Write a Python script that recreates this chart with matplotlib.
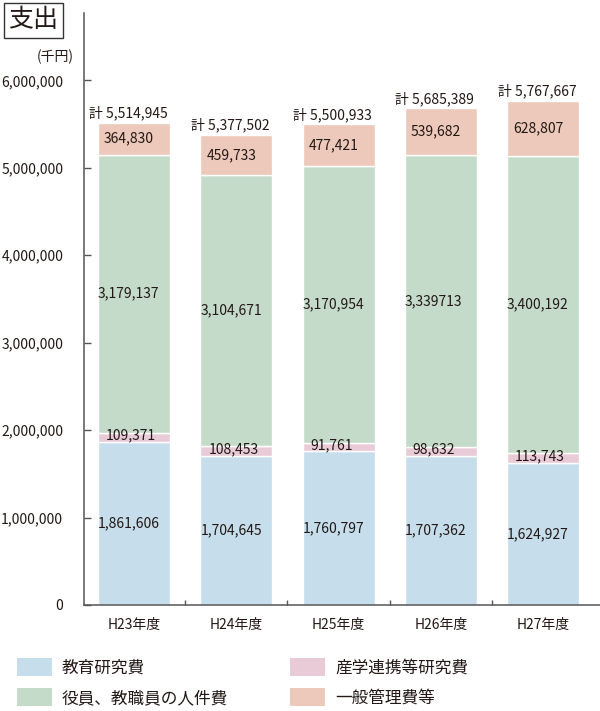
import numpy as np
import matplotlib
matplotlib.use('Agg')
import matplotlib.pyplot as plt
from matplotlib.patches import Patch
from matplotlib.ticker import FuncFormatter, FixedLocator

plt.rcParams['font.family'] = ['Noto Sans CJK JP', 'DejaVu Sans']

# ---- data ----
years = ['H23年度', 'H24年度', 'H25年度', 'H26年度', 'H27年度']
edu = [1861606, 1704645, 1760797, 1707362, 1624927]          # 教育研究費
sangaku = [109371, 108453, 91761, 98632, 113743]              # 産学連携等研究費
jinken = [3179137, 3104671, 3170954, 3339713, 3400192]        # 役員、教職員の人件費
ippan = [364830, 459733, 477421, 539682, 628807]              # 一般管理費等
jinken_labels = ['3,179,137', '3,104,671', '3,170,954', '3,339713', '3,400,192']
totals = ['5,514,945', '5,377,502', '5,500,933', '5,685,389', '5,767,667']
series_names = ['教育研究費', '産学連携等研究費', '役員、教職員の人件費', '一般管理費等']
yticks = [0, 1000000, 2000000, 3000000, 4000000, 5000000, 6000000]

# ---- style ----
c_blue = '#c6ddeb'
c_pink = '#e9cbd8'
c_green = '#c5dbca'
c_peach = '#ecc9ba'
txt = '#231815'
spine_c = '#555555'

fig = plt.figure(figsize=(6, 7.11), dpi=100)
W, H = 600, 711
ax = fig.add_axes([84 / W, 106 / H, 516 / W, 592 / H])

x = np.arange(len(years))
bw = 0.704
bottom = np.zeros(len(years))
px = 0.72  # points per pixel

series = [
    (edu, c_blue, [f'{v:,}' for v in edu], 0, 0),
    (sangaku, c_pink, [f'{v:,}' for v in sangaku], 8, 2),
    (jinken, c_green, jinken_labels, 0, 0),
    (ippan, c_peach, [f'{v:,}' for v in ippan], 6, 0),
]
for vals, col, labs, dx, dy in series:
    vals = np.array(vals, dtype=float)
    ax.bar(x, vals, bw, bottom=bottom, color=col, edgecolor='white', linewidth=1.0, zorder=2)
    for xi, b, v, lab in zip(x, bottom, vals, labs):
        ax.annotate(lab, (xi - bw / 2, b + v / 2), xytext=(dx * px, dy * px),
                    textcoords='offset points', ha='left', va='center',
                    fontsize=10, color=txt, zorder=4)
    bottom = bottom + vals

for xi, top, t in zip(x, bottom, totals):
    ax.annotate('計 ' + t, (xi, top), xytext=(-6 * px, 2 * px), textcoords='offset points',
                ha='center', va='bottom', fontsize=10, color=txt)

ax.set_xlim(-0.489, 4.557)
ax.set_ylim(0, 6.77e6)
ax.set_yticks(yticks)
ax.yaxis.set_major_formatter(FuncFormatter(lambda v, p: f'{int(v):,}'))
ax.set_xticks(x)
ax.set_xticklabels(years)
ax.xaxis.set_minor_locator(FixedLocator([0.5, 1.5, 2.5, 3.5]))

for s in ['top', 'right']:
    ax.spines[s].set_visible(False)
for s in ['left', 'bottom']:
    ax.spines[s].set_color(spine_c)
    ax.spines[s].set_linewidth(1.1)

ax.tick_params(axis='y', direction='in', length=4.7, width=1.0, color=spine_c,
               pad=15, labelsize=10, labelcolor=txt)
ax.tick_params(axis='x', which='major', length=0, pad=9, labelsize=10, labelcolor=txt)
ax.tick_params(axis='x', which='minor', direction='in', length=3.6, width=1.0, color=spine_c)

# title box
fig.text(8 / W, 1 - 20 / H, '支出', fontsize=18, ha='left', va='center', color=txt,
         bbox=dict(boxstyle='square,pad=0.18', fc='white', ec='#333333', lw=1.0))
fig.text(74 / W, 1 - 57 / H, '(千円)', ha='right', va='center', fontsize=10, color=txt)

handles = [Patch(facecolor=c_blue), Patch(facecolor=c_green),
           Patch(facecolor=c_pink), Patch(facecolor=c_peach)]
labels = [series_names[0], series_names[2], series_names[1], series_names[3]]
fig.legend(handles, labels, ncol=2, loc='upper left', bbox_to_anchor=(17 / W, 1 - 658 / H),
           frameon=False, fontsize=12, handlelength=2.1, handleheight=1.26,
           handletextpad=0.6, columnspacing=3.7, labelspacing=0.72,
           borderaxespad=0, borderpad=0, labelcolor=txt)

fig.savefig('out.png', dpi=100)
